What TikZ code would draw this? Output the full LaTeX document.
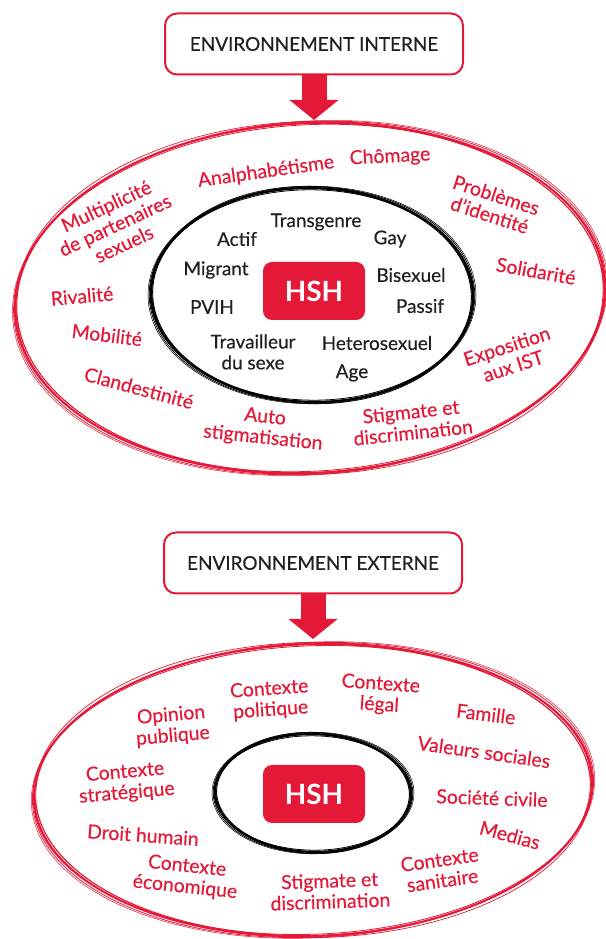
\documentclass[tikz,border=0pt]{standalone}
\usepackage{fontspec}
\setmainfont{Lato}
\newfontfamily\labelfont{Lato}[FakeBold=0.4]
\usetikzlibrary{arrows.meta}
\definecolor{hshred}{RGB}{228,25,55}
\definecolor{hshgray}{RGB}{35,31,32}
\tikzset{
  envbox/.style={draw=hshred, line width=2bp, rounded corners=12bp, fill=white,
    minimum width=298bp, minimum height=61bp, text=hshgray,
    font=\labelfont\fontsize{19}{21}\selectfont},
  hshbox/.style={fill=hshred, rounded corners=9bp, minimum width=102bp,
    minimum height=58bp, text=white, font=\fontsize{28}{30}\selectfont\bfseries},
  redlabel/.style={text=hshred, align=center, inner sep=0pt,
    font=\labelfont\fontsize{19.5}{21}\selectfont},
  graylabel/.style={text=hshgray, align=center, inner sep=0pt,
    font=\labelfont\fontsize{19}{21}\selectfont},
  bigarrow/.style={draw=hshred, line width=25bp, -{Triangle[width=48bp,length=20bp]}},
}
% hand drawn ring: x, y, rx, ry, tilt, colour
\newcommand{\brushring}[6]{%
  \foreach \dr/\ds/\rot/\lw in {0/0/0/2.0, 1.8/1.2/0.6/0.8, -1.6/-0.6/-0.5/0.9,
      3.0/1.8/1.0/0.5, -0.8/1.6/-1.2/0.7, 1.0/-1.8/0.3/0.8}
    \draw[#6, line width={\lw*1bp}, rotate around={#5+\rot:(#1bp,#2bp)}]
      (#1bp,#2bp) ellipse [x radius={(#3+\dr)*1bp}, y radius={(#4+\ds)*1bp}];
}
\begin{document}
\begin{tikzpicture}[line join=round]
    \useasboundingbox (0,0) rectangle (606bp,939bp);
    %% environnement interne
    \brushring{310}{641}{295}{175}{3}{hshred}
    \brushring{312}{644}{161}{107}{-1}{black}
    \node (intbox) at (314bp,895bp) [envbox] {ENVIRONNEMENT INTERNE};
    \coordinate (inttip) at (314bp,819bp);
    \draw [bigarrow] (intbox) -- (inttip);
    \node (hshint) at (314bp,648bp) [hshbox] {HSH};
    %
    \node (analpha) at (266bp,767bp) [redlabel,rotate=8] {Analphabétisme};
    \node (multi) at (115bp,714bp) [redlabel,rotate=25] {Multiplicité\\de partenaires\\sexuels};
    \node (chomage) at (390bp,782bp) [redlabel,rotate=3] {Chômage};
    \node (identite) at (493bp,734bp) [redlabel,rotate=-18] {Problèmes\\d’identité};
    \node (solidarite) at (536bp,668bp) [redlabel,rotate=-10] {Solidarité};
    \node (rivalite) at (82bp,643bp) [redlabel,rotate=5] {Rivalité};
    \node (mobilite) at (107bp,604bp) [redlabel,rotate=-7] {Mobilité};
    \node (exposition) at (510bp,583bp) [redlabel,rotate=18] {Exposition\\aux IST};
    \node (clandestin) at (139bp,551bp) [redlabel,rotate=-15] {Clandestinité};
    \node (autostig) at (264bp,511bp) [redlabel,rotate=-6] {Auto\\stigmatisation};
    \node (stigint) at (412bp,517bp) [redlabel,rotate=6] {Stigmate et\\discrimination};
    %
    \node (transgenre) at (316bp,717bp) [graylabel] {Transgenre};
    \node (actif) at (237bp,700bp) [graylabel] {Actif};
    \node (gay) at (390bp,700bp) [graylabel] {Gay};
    \node (migrant) at (216bp,669bp) [graylabel] {Migrant};
    \node (bisexuel) at (411bp,664bp) [graylabel] {Bisexuel};
    \node (pvih) at (212bp,632bp) [graylabel] {PVIH};
    \node (passif) at (420bp,633bp) [graylabel] {Passif};
    \node (travail) at (253bp,587bp) [graylabel] {Travailleur\\du sexe};
    \node (hetero) at (377bp,596bp) [graylabel] {Heterosexuel};
    \node (age) at (352bp,566bp) [graylabel] {Age};
    %% environnement externe
    \brushring{313}{149}{279}{146}{2}{hshred}
    \brushring{313}{146}{98}{59}{-1}{black}
    \node (extbox) at (313bp,376bp) [envbox] {ENVIRONNEMENT EXTERNE};
    \coordinate (exttip) at (313bp,300bp);
    \draw [bigarrow] (extbox) -- (exttip);
    \node (hshext) at (314bp,145bp) [hshbox] {HSH};
    %
    \node (politique) at (270bp,239bp) [redlabel,rotate=4] {Contexte\\politique};
    \node (opinion) at (172bp,213bp) [redlabel,rotate=5] {Opinion\\publique};
    \node (legal) at (380bp,244bp) [redlabel,rotate=-4] {Contexte\\légal};
    \node (famille) at (486bp,225bp) [redlabel,rotate=-7] {Famille};
    \node (valeurs) at (484bp,187bp) [redlabel,rotate=-8] {Valeurs sociales};
    \node (strategie) at (126bp,156bp) [redlabel,rotate=5] {Contexte\\stratégique};
    \node (societe) at (492bp,141bp) [redlabel,rotate=-2] {Société civile};
    \node (droit) at (143bp,104bp) [redlabel,rotate=-4] {Droit humain};
    \node (medias) at (510bp,104bp) [redlabel,rotate=-15] {Medias};
    \node (economie) at (186bp,62bp) [redlabel,rotate=-6] {Contexte\\économique};
    \node (stigext) at (330bp,48bp) [redlabel,rotate=2] {Stigmate et\\discrimination};
    \node (sanitaire) at (441bp,69bp) [redlabel,rotate=8] {Contexte\\sanitaire};
    %
\end{tikzpicture}
\end{document}
